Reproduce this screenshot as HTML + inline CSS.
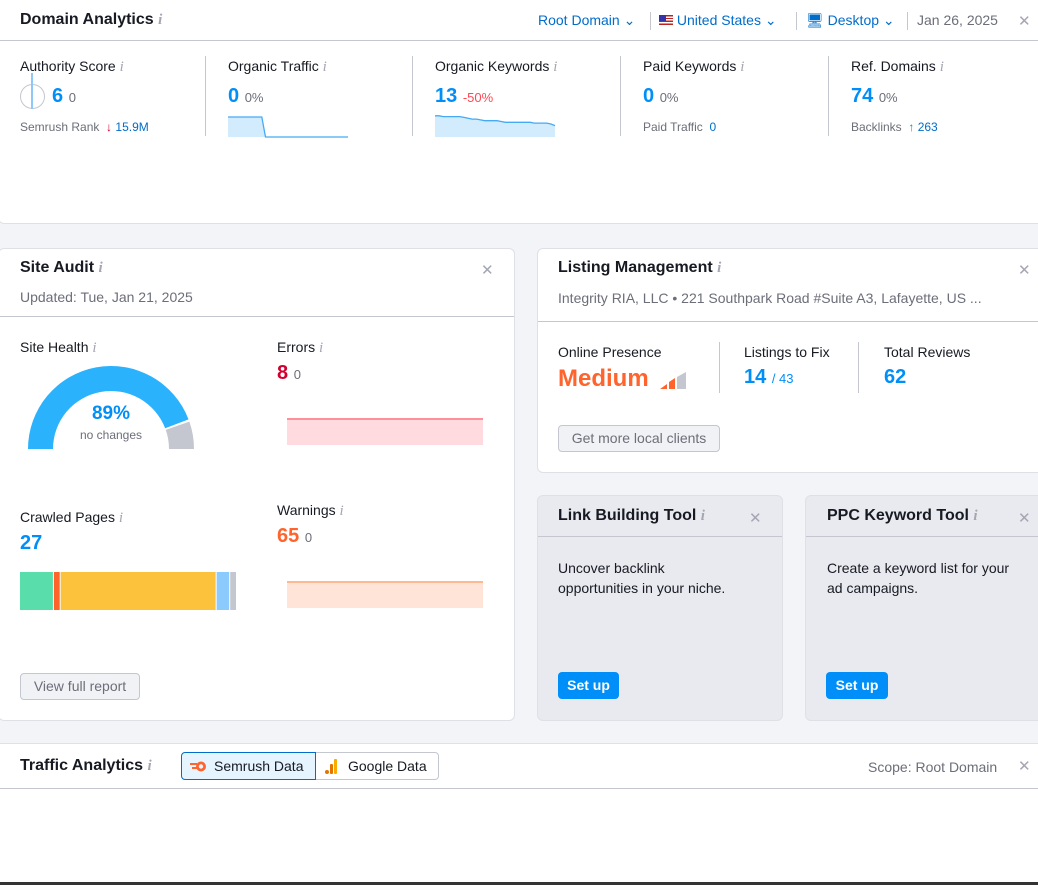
<!DOCTYPE html>
<html><head><meta charset="utf-8">
<style>
*{box-sizing:border-box;margin:0;padding:0}
body{width:1038px;height:885px;overflow:hidden;background:#f3f4f8;font-family:"Liberation Sans",sans-serif;color:#171a22;position:relative}
.abs{position:absolute;white-space:nowrap}
.card{position:absolute;background:#fff;border:1px solid #dfe0e6;border-radius:6px}
.t{font-weight:bold;font-size:16px}
.i{color:#a4a6b3;font-family:"Liberation Serif",serif;font-style:italic;font-size:15px}
.lbl{font-size:14px;color:#171a22}
.big{font-weight:bold;font-size:20px;color:#008ff8}
.sm{font-size:12px;color:#6c6e79}
.gray{color:#6c6e79}
.blue{color:#006dca}
.x{color:#a4a6b3;font-size:15px}
.vd{position:absolute;width:1px;background:#c4c6d0}
.btn{position:absolute;border:1px solid #c4c6d0;border-radius:4px;background:#f1f2f5;color:#6c6e79;font-size:14px;text-align:center}
.sbtn{position:absolute;background:#008ff8;color:#fff;font-weight:bold;font-size:14px;border-radius:4px;text-align:center;line-height:27px}
</style></head><body>

<!-- Domain Analytics -->
<div class="card" style="left:-2px;top:-6px;width:1050px;height:230px"></div>
<div class="abs t" style="left:20px;top:11px">Domain Analytics <span class="i">i</span></div>
<div class="abs blue" style="left:538px;top:12px;font-size:14px;color:#006dca">Root Domain ⌄</div>
<div class="vd" style="left:650px;top:12px;height:18px"></div>
<div class="abs" style="left:659px;top:12px;font-size:14px;color:#006dca"><span style="display:inline-block;width:14px;height:10px;background:repeating-linear-gradient(#b22 0 1.4px,#fff 1.4px 2.8px);position:relative;vertical-align:0"><span style="position:absolute;left:0;top:0;width:7px;height:6px;background:#33a"></span></span> United States ⌄</div>
<div class="vd" style="left:796px;top:12px;height:18px"></div>
<div class="abs" style="left:806px;top:12px;font-size:14px;color:#006dca">🖥︎ Desktop ⌄</div>
<div class="vd" style="left:907px;top:12px;height:18px"></div>
<div class="abs gray" style="left:917px;top:12px;font-size:14px">Jan 26, 2025</div>
<div class="abs x" style="left:1018px;top:12px">✕</div>
<div class="abs" style="left:0;top:40px;width:1038px;height:1px;background:#c4c6d0"></div>

<div class="abs lbl" style="left:20px;top:58px">Authority Score <span class="i">i</span></div>
<div class="abs" style="left:20px;top:84px;width:25px;height:25px;border:1.5px solid #c4c6d0;border-radius:50%"></div>
<div class="abs" style="left:31px;top:73px;width:1.5px;height:36px;background:#8ec8fb"></div>
<div class="abs big" style="left:52px;top:85px">6 <span class="sm" style="font-weight:normal;font-size:13px">0</span></div>
<div class="abs sm" style="left:20px;top:120px">Semrush Rank &nbsp;<span style="color:#d1002f">↓</span> <span class="blue">15.9M</span></div>
<div class="vd" style="left:205px;top:56px;height:80px"></div>

<div class="abs lbl" style="left:228px;top:58px">Organic Traffic <span class="i">i</span></div>
<div class="abs big" style="left:228px;top:85px">0 <span class="sm" style="font-weight:normal;font-size:13px">0%</span></div>
<svg class="abs" id="sp1" style="left:228px;top:114px" width="122" height="24"></svg>
<div class="vd" style="left:412px;top:56px;height:80px"></div>

<div class="abs lbl" style="left:435px;top:58px">Organic Keywords <span class="i">i</span></div>
<div class="abs big" style="left:435px;top:85px">13 <span style="font-weight:normal;font-size:13px;color:#ff4953">-50%</span></div>
<svg class="abs" id="sp2" style="left:435px;top:114px" width="122" height="24"></svg>
<div class="vd" style="left:620px;top:56px;height:80px"></div>

<div class="abs lbl" style="left:643px;top:58px">Paid Keywords <span class="i">i</span></div>
<div class="abs big" style="left:643px;top:85px">0 <span class="sm" style="font-weight:normal;font-size:13px">0%</span></div>
<div class="abs sm" style="left:643px;top:120px">Paid Traffic &nbsp;<span class="blue">0</span></div>
<div class="vd" style="left:828px;top:56px;height:80px"></div>

<div class="abs lbl" style="left:851px;top:58px">Ref. Domains <span class="i">i</span></div>
<div class="abs big" style="left:851px;top:85px">74 <span class="sm" style="font-weight:normal;font-size:13px">0%</span></div>
<div class="abs sm" style="left:851px;top:120px">Backlinks &nbsp;<span style="color:#009f81">↑</span> <span class="blue">263</span></div>

<!-- Site Audit -->
<div class="card" style="left:-2px;top:248px;width:517px;height:473px"></div>
<div class="abs t" style="left:20px;top:259px">Site Audit <span class="i">i</span></div>
<div class="abs x" style="left:481px;top:261px">✕</div>
<div class="abs gray" style="left:20px;top:289px;font-size:14px">Updated: Tue, Jan 21, 2025</div>
<div class="abs" style="left:0;top:316px;width:514px;height:1px;background:#c4c6d0"></div>

<div class="abs lbl" style="left:20px;top:339px">Site Health <span class="i">i</span></div>
<svg class="abs" id="gauge" style="left:0;top:340px" width="230" height="120"></svg>
<div class="abs" style="left:61px;top:403px;width:100px;text-align:center;font-weight:bold;font-size:19px;color:#008ff8">89%</div>
<div class="abs gray" style="left:61px;top:428px;width:100px;text-align:center;font-size:12px">no changes</div>

<div class="abs lbl" style="left:277px;top:339px">Errors <span class="i">i</span></div>
<div class="abs" style="left:277px;top:362px;font-weight:bold;font-size:20px;color:#d1002f">8 <span class="sm" style="font-weight:normal;font-size:13px">0</span></div>
<svg class="abs" id="errc" style="left:287px;top:405px" width="197" height="42"></svg>

<div class="abs lbl" style="left:20px;top:509px">Crawled Pages <span class="i">i</span></div>
<div class="abs big" style="left:20px;top:532px">27</div>
<svg class="abs" id="crawl" style="left:20px;top:572px" width="218" height="38"></svg>

<div class="abs lbl" style="left:277px;top:502px">Warnings <span class="i">i</span></div>
<div class="abs" style="left:277px;top:525px;font-weight:bold;font-size:20px;color:#ff642d">65 <span class="sm" style="font-weight:normal;font-size:13px">0</span></div>
<svg class="abs" id="warnc" style="left:287px;top:568px" width="197" height="42"></svg>

<div class="btn" style="left:20px;top:673px;width:120px;height:27px;line-height:25px">View full report</div>

<!-- Listing Management -->
<div class="card" style="left:537px;top:248px;width:510px;height:225px"></div>
<div class="abs t" style="left:558px;top:259px">Listing Management <span class="i">i</span></div>
<div class="abs x" style="left:1018px;top:261px">✕</div>
<div class="abs gray" style="left:558px;top:290px;font-size:14px">Integrity RIA, LLC • 221 Southpark Road #Suite A3, Lafayette, US ...</div>
<div class="abs" style="left:538px;top:321px;width:500px;height:1px;background:#c4c6d0"></div>
<div class="abs lbl" style="left:558px;top:344px">Online Presence</div>
<div class="abs" style="left:558px;top:365px;font-weight:bold;font-size:24px;color:#ff642d">Medium</div>
<svg class="abs" style="left:660px;top:372px" width="28" height="17"><polygon points="0,17 7,12 7,17" fill="#ff642d"/><polygon points="9,17 9,10 15,6 15,17" fill="#ff642d"/><polygon points="17,17 17,5 26,0 26,17" fill="#c4c6d0"/></svg>
<div class="vd" style="left:719px;top:342px;height:51px"></div>
<div class="abs lbl" style="left:744px;top:344px">Listings to Fix</div>
<div class="abs big" style="left:744px;top:366px">14 <span style="font-weight:normal;font-size:13px">/ 43</span></div>
<div class="vd" style="left:858px;top:342px;height:51px"></div>
<div class="abs lbl" style="left:884px;top:344px">Total Reviews</div>
<div class="abs big" style="left:884px;top:366px">62</div>
<div class="btn" style="left:558px;top:425px;width:162px;height:27px;line-height:25px">Get more local clients</div>

<!-- Link Building -->
<div class="card" style="left:537px;top:495px;width:246px;height:226px;background:#e9eaf0"></div>
<div class="abs t" style="left:558px;top:507px">Link Building Tool <span class="i">i</span></div>
<div class="abs x" style="left:749px;top:509px">✕</div>
<div class="abs" style="left:538px;top:536px;width:244px;height:1px;background:#c4c6d0"></div>
<div class="abs" style="left:558px;top:558px;font-size:14px;line-height:20px">Uncover backlink<br>opportunities in your niche.</div>
<div class="sbtn" style="left:558px;top:672px;width:61px;height:27px">Set up</div>

<!-- PPC -->
<div class="card" style="left:805px;top:495px;width:250px;height:226px;background:#e9eaf0"></div>
<div class="abs t" style="left:827px;top:507px">PPC Keyword Tool <span class="i">i</span></div>
<div class="abs x" style="left:1018px;top:509px">✕</div>
<div class="abs" style="left:806px;top:536px;width:232px;height:1px;background:#c4c6d0"></div>
<div class="abs" style="left:827px;top:558px;font-size:14px;line-height:20px">Create a keyword list for your<br>ad campaigns.</div>
<div class="sbtn" style="left:826px;top:672px;width:62px;height:27px">Set up</div>

<!-- Traffic Analytics -->
<div class="abs" style="left:0;top:743px;width:1038px;height:139px;background:#fff;border-top:1px solid #e0e1e6"></div>
<div class="abs t" style="left:20px;top:757px">Traffic Analytics <span class="i">i</span></div>
<div class="abs" style="left:181px;top:752px;width:135px;height:28px;border:1px solid #006dca;border-radius:4px 0 0 4px;background:#e6f4ff;font-size:14px;line-height:26px;padding-left:32px"><svg style="position:absolute;left:8px;top:8px" width="17" height="11"><circle cx="11" cy="5.5" r="5" fill="#ff642d"/><circle cx="11" cy="5.5" r="2.2" fill="#e6f4ff"/><rect x="0" y="2" width="7" height="2" fill="#ff642d"/><rect x="2" y="6" width="5" height="2" fill="#ff642d"/></svg>Semrush Data</div>
<div class="abs" style="left:316px;top:752px;width:123px;height:28px;border:1px solid #c4c6d0;border-left:none;border-radius:0 4px 4px 0;font-size:14px;line-height:26px;padding-left:32px"><svg style="position:absolute;left:9px;top:6px" width="12" height="15"><circle cx="2" cy="13" r="2" fill="#e37400"/><rect x="5" y="5" width="3" height="10" rx="1" fill="#e37400"/><rect x="9" y="0" width="3" height="15" rx="1" fill="#f9ab00"/></svg>Google Data</div>
<div class="abs gray" style="left:868px;top:759px;font-size:14px">Scope: Root Domain</div>
<div class="abs x" style="left:1018px;top:757px">✕</div>
<div class="abs" style="left:0;top:788px;width:1038px;height:1px;background:#c4c6d0"></div>
<div class="abs" style="left:0;top:882px;width:1038px;height:3px;background:#333"></div>

<script>
const NS='http://www.w3.org/2000/svg';
const trafficValues=[5,5,5,5,5,5,5,5,5,5,0,0,0,0,0,0,0,0,0,0,0,0,0,0,0,0,0,0,0,0,0,0,0];
const keywordValues=[26,26,25,25,25,25,25,24,23,22,22,21,20,20,20,20,19,18,18,18,18,18,18,18,17,17,17,17,16,14];
const errorValues=[8,8,8,8,8,8,8];
const warningValues=[65,65,65,65,65,65,65];
const siteHealth=89;
const crawledCategories=['healthy','broken','have-issues','redirected','blocked'];
const crawledValues=[5,1,23,2,1];
const crawledColors=['#59ddaa','#ff642d','#fdc23c','#8bcafd','#c4c6d0'];

function el(svg,tag,attrs){const e=document.createElementNS(NS,tag);for(const k in attrs)e.setAttribute(k,attrs[k]);svg.appendChild(e);return e;}

function spark(id,vals,maxV,name){
  const svg=document.getElementById(id);const W=120,H=22;
  const x=i=>i*W/(vals.length-1), y=v=>H-v/maxV*H+1;
  let d='M0,'+(H+1);vals.forEach((v,i)=>d+=' L'+x(i).toFixed(1)+','+y(v).toFixed(1));d+=' L'+W+','+(H+1)+'Z';
  const a=el(svg,'path',{d:d,fill:'#d3ecfd'});
  
  
  let l='';vals.forEach((v,i)=>l+=(i?' L':'M')+x(i).toFixed(1)+','+y(v).toFixed(1));
  const p=el(svg,'path',{d:l,fill:'none',stroke:'#44aaf5','stroke-width':1.3});
  
  
}
spark('sp1',trafficValues,5.5,'organic-traffic');
spark('sp2',keywordValues,27,'organic-keywords');

(function(){
  const svg=document.getElementById('gauge');const cx=111,cy=109,R=83,r=58;
  function arc(a0,a1,col,name){
    const p=(a,rr)=>[cx+rr*Math.cos(a),cy-rr*Math.sin(a)];
    const [x0,y0]=p(a0,R),[x1,y1]=p(a1,R),[x2,y2]=p(a1,r),[x3,y3]=p(a0,r);
    const e=el(svg,'path',{d:`M${x0},${y0} A${R},${R} 0 0 1 ${x1},${y1} L${x2},${y2} A${r},${r} 0 0 0 ${x3},${y3}Z`,fill:col});
    
    
  }
  const split=Math.PI*(1-siteHealth/100);
  arc(Math.PI,split+0.02,'#2bb2fd','gauge-health-arc');
  arc(split-0.01,0,'#c4c6d0','gauge-remaining-arc');
})();

function areaChart(id,vals,fill,line,name){
  const svg=document.getElementById(id);const W=196,H=40,maxV=Math.max(...vals)*1.0;
  const x=i=>i*W/(vals.length-1), y=v=>H-(v/maxV)*26;
  let d='M0,'+H;vals.forEach((v,i)=>d+=' L'+x(i)+','+y(v));d+=' L'+W+','+H+'Z';
  const a=el(svg,'path',{d:d,fill:fill});
  
  
  let l='';vals.forEach((v,i)=>l+=(i?' L':'M')+x(i)+','+y(v));
  const p=el(svg,'path',{d:l,fill:'none',stroke:line,'stroke-width':2});
  
  
}
areaChart('errc',errorValues,'#ffdadf','#ff8f9a','errors');
areaChart('warnc',warningValues,'#ffe4d7','#ffb990','warnings');

(function(){
  const svg=document.getElementById('crawl');const W=217,tot=crawledValues.reduce((a,b)=>a+b,0);let x=0;
  crawledValues.forEach((v,i)=>{const w=v/tot*W;
    const r=el(svg,'rect',{x:x,y:0,width:Math.max(w-1,1),height:38,fill:crawledColors[i]});
    
    
    x+=w;});
})();
</script>
</body></html>
